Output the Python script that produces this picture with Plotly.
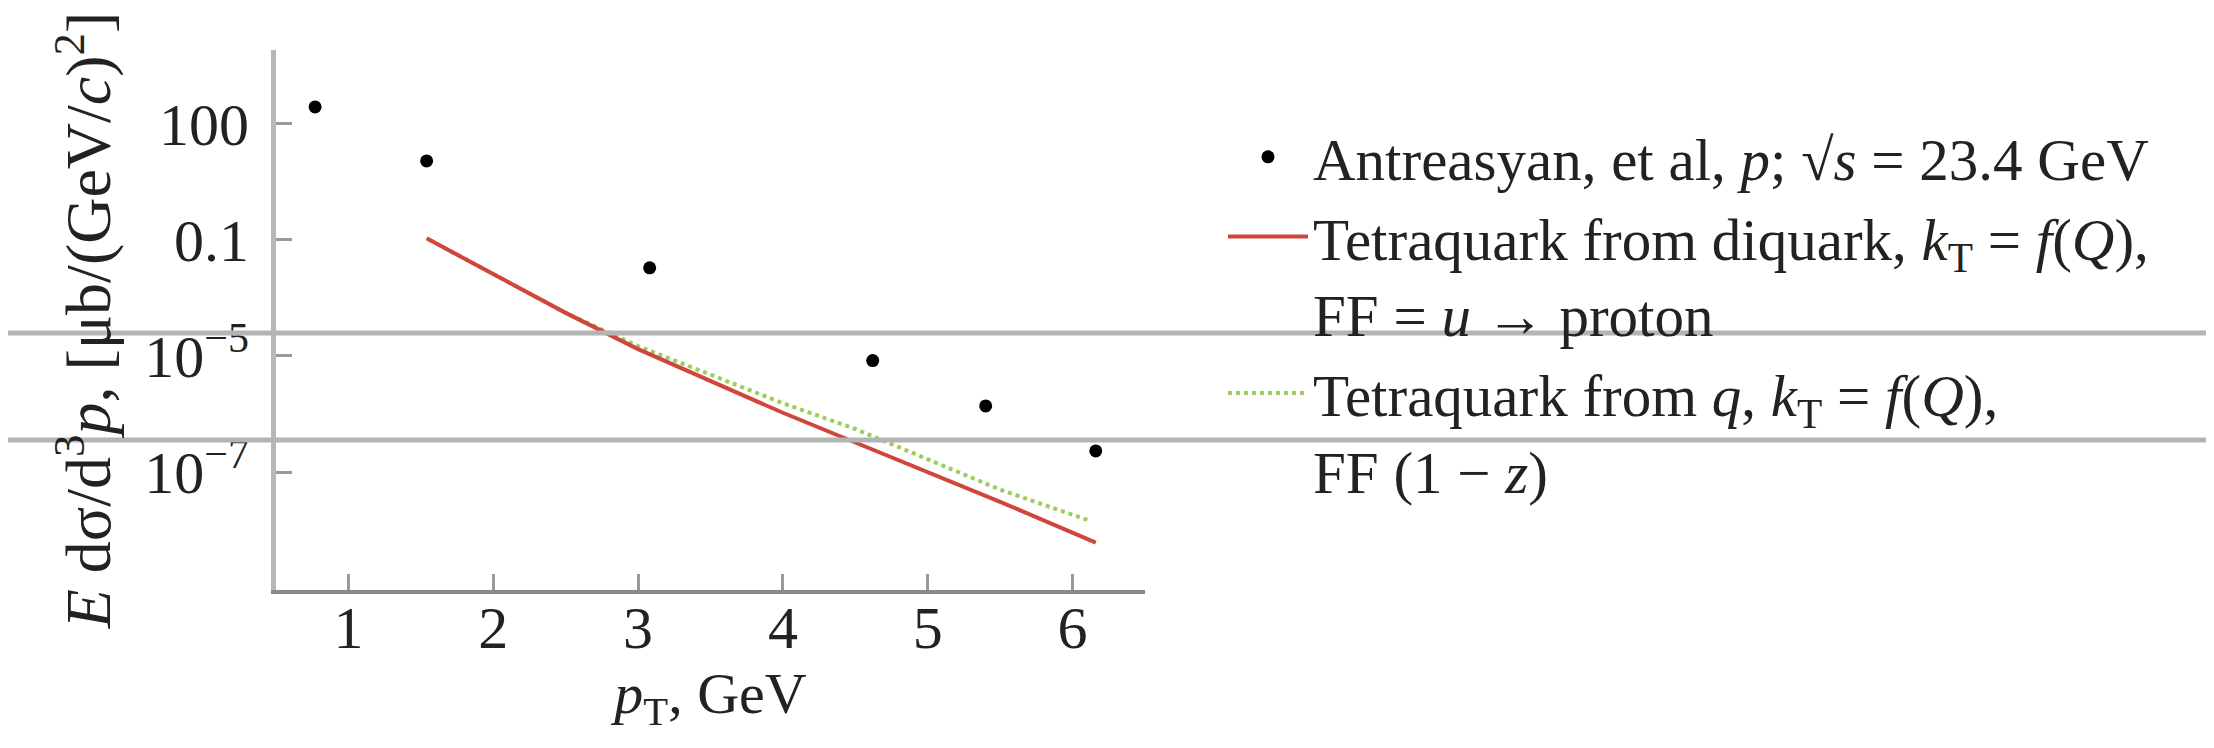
import plotly.graph_objects as go

# Data
pt_data = [0.77, 1.54, 3.08, 4.62, 5.40, 6.16]
sigma_data = [2.75e2, 1.1e1, 1.9e-2, 7.6e-5, 5.1e-6, 3.5e-7]

pt_diquark = [1.54, 2.0, 2.5, 3.0, 3.5, 4.0, 4.5, 5.0, 5.5, 6.16]
sigma_diquark = [1.1e-1, 1.3e-2, 1.3e-3, 1.5e-4, 2.2e-5, 3.4e-6, 5.8e-7, 1.0e-7, 1.7e-8, 1.5e-9]

pt_q = [1.56, 2.0, 2.5, 3.0, 3.5, 4.0, 4.5, 5.0, 5.5, 6.12]
sigma_q = [1.0e-1, 1.3e-2, 1.3e-3, 1.8e-4, 3.2e-5, 6.0e-6, 1.3e-6, 2.1e-7, 3.5e-8, 5.5e-9]

x_ticks = [1, 2, 3, 4, 5, 6]
y_tickvals = [1e2, 1e-1, 1e-4, 1e-7]
y_ticktext = ["100", "0.1", "10<sup>−5</sup>", "10<sup>−7</sup>"]

name_data = "Antreasyan, et al, <i>p</i>; √<i>s</i> = 23.4 GeV"
name_diquark = "Tetraquark from diquark, <i>k</i><sub>T</sub> = <i>f</i>(<i>Q</i>),<br>FF = <i>u</i> → proton"
name_q = "Tetraquark from <i>q</i>, <i>k</i><sub>T</sub> = <i>f</i>(<i>Q</i>),<br>FF (1 − <i>z</i>)"

FONT = "Liberation Serif, Times New Roman, serif"

fig = go.Figure()
fig.add_trace(go.Scatter(x=pt_data, y=sigma_data, mode="markers", name=name_data,
                         marker=dict(color="black", size=13), legendrank=1))
fig.add_trace(go.Scatter(x=pt_q, y=sigma_q, mode="lines", name=name_q,
                         line=dict(color="#9acd5a", width=4, dash="dot"), legendrank=3))
fig.add_trace(go.Scatter(x=pt_diquark, y=sigma_diquark, mode="lines", name=name_diquark,
                         line=dict(color="#d0463c", width=4), legendrank=2))

W, H = 2214, 748
L, R, T, B = 268, 1137, 42, 582
pw, ph = R - L, B - T

fig.update_layout(
    width=W, height=H,
    margin=dict(l=L, r=W - R, t=T, b=H - B, autoexpand=False),
    paper_bgcolor="white", plot_bgcolor="white",
    font=dict(family=FONT, size=58, color="#222"),
    showlegend=True,
    legend=dict(x=(1215 - L) / pw, y=(B - 104) / ph, xanchor="left", yanchor="top",
                font=dict(family=FONT, size=59, color="#222"), valign="top",
                bgcolor="rgba(0,0,0,0)", tracegroupgap=0, itemwidth=80),
    xaxis=dict(range=[0.5, 6.5], tickvals=x_ticks, showgrid=False, zeroline=False,
               showline=True, linecolor="#8a8a8a", linewidth=4,
               ticks="inside", ticklen=16, tickwidth=3, tickcolor="#9a9a9a",
               ticklabelstandoff=-18,
               tickfont=dict(family=FONT, size=60, color="#222"),
               title=dict(text="<i>p</i><sub>T</sub>, GeV", standoff=12,
                          font=dict(family=FONT, size=58, color="#222"))),
    yaxis=dict(type="log", range=[-10.05, 3.91], tickvals=y_tickvals, ticktext=y_ticktext,
               showgrid=False, zeroline=False,
               showline=True, linecolor="#b8b8b8", linewidth=5,
               ticks="inside", ticklen=16, tickwidth=3, tickcolor="#9a9a9a",
               ticklabelstandoff=10,
               tickfont=dict(family=FONT, size=60, color="#222"),
               title=dict(text="<i>E</i> dσ/d<sup>3</sup><i>p</i>, [μb/(GeV/<i>c</i>)<sup>2</sup>]",
                          standoff=14, font=dict(family=FONT, size=64, color="#222"))),
)

# Two horizontal gray rule lines crossing the whole image (as in the reference scan)
for ypix in (325, 432):
    fig.add_shape(type="line", xref="paper", yref="paper",
                  x0=-L / pw, x1=(W - L) / pw, y0=(B - ypix) / ph, y1=(B - ypix) / ph,
                  line=dict(color="#b4b4b4", width=5), layer="above")

fig.write_html("out.html")
